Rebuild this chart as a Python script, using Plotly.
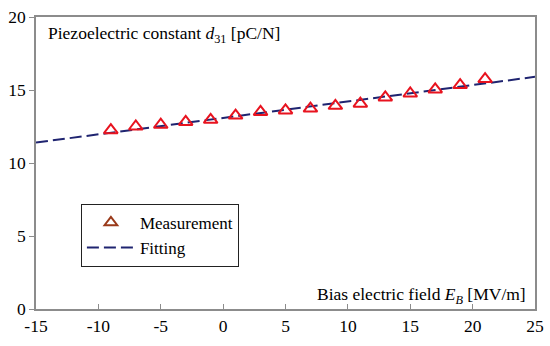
import plotly.graph_objects as go

# Measured data
bias_field = [-9, -7, -5, -3, -1, 1, 3, 5, 7, 9, 11, 13, 15, 17, 19, 21]
d31_measured = [12.25, 12.5, 12.62, 12.81, 12.96, 13.25, 13.5, 13.6, 13.73, 13.92,
                14.06, 14.49, 14.76, 15.04, 15.34, 15.75]

# Fitted line endpoints
fit_x = [-15, 25]
fit_y = [11.4, 15.9]

x_ticks = [-15, -10, -5, 0, 5, 10, 15, 20, 25]
y_ticks = [0, 5, 10, 15, 20]

FONT = "Liberation Serif, Times New Roman, serif"

fig = go.Figure()

fig.add_trace(go.Scatter(
    x=fit_x, y=fit_y, mode="lines", name="Fitting",
    line=dict(color="#1f2470", width=2, dash="12px,5px"),
    showlegend=False,
))

fig.add_trace(go.Scatter(
    x=bias_field, y=d31_measured, mode="markers", name="Measurement",
    marker=dict(symbol="triangle-up-open", size=12, color="#e8131f",
                line=dict(width=2, color="#e8131f")),
    showlegend=False,
))

# legend entries
fig.add_trace(go.Scatter(
    x=[None], y=[None], mode="markers", name="Measurement",
    marker=dict(symbol="triangle-up-open", size=11, color="#9a3a1a",
                line=dict(width=2, color="#9a3a1a")),
))
fig.add_trace(go.Scatter(
    x=[None], y=[None], mode="lines", name="Fitting",
    line=dict(color="#1f2470", width=2, dash="12px,5px"),
))

fig.update_layout(
    template="none",
    width=550, height=346,
    margin=dict(l=36, r=15, t=17, b=37, autoexpand=False),
    paper_bgcolor="white", plot_bgcolor="white",
    font=dict(family=FONT, size=17, color="black"),
    legend=dict(
        x=0.09, y=0.36, xanchor="left", yanchor="top",
        bordercolor="#222222", borderwidth=1, bgcolor="white",
        font=dict(family=FONT, size=17, color="black"),
        itemwidth=48, tracegroupgap=0,
    ),
    xaxis=dict(
        range=[-15, 25], tickvals=x_ticks, ticktext=[str(v) for v in x_ticks],
        showgrid=False, zeroline=False, showline=True, linecolor="#8c8c8c",
        linewidth=1.5, mirror=True, ticks="inside", ticklen=5, tickcolor="#8c8c8c",
        tickfont=dict(family=FONT, size=17.5), automargin=False,
    ),
    yaxis=dict(
        range=[0, 20], tickvals=y_ticks, ticktext=[str(v) for v in y_ticks],
        showgrid=False, zeroline=False, showline=True, linecolor="#8c8c8c",
        linewidth=1.5, mirror=True, ticks="outside", ticklen=5, tickcolor="#8c8c8c",
        tickfont=dict(family=FONT, size=17.5), automargin=False,
    ),
    annotations=[
        dict(text="Piezoelectric constant <i>d</i><sub>31</sub> [pC/N]",
             xref="paper", yref="paper", x=0.02, y=0.985,
             xanchor="left", yanchor="top", showarrow=False,
             font=dict(family=FONT, size=17.5, color="black")),
        dict(text="Bias electric field <i>E</i><sub><i>B</i></sub> [MV/m]",
             xref="paper", yref="paper", x=0.985, y=0.0,
             xanchor="right", yanchor="bottom", showarrow=False,
             font=dict(family=FONT, size=17.5, color="black")),
    ],
)

# remove the default 8px page margin so the figure fills the window
fig.write_html("out.html", config={"displayModeBar": False},
               post_script="document.body.style.margin='0';")
